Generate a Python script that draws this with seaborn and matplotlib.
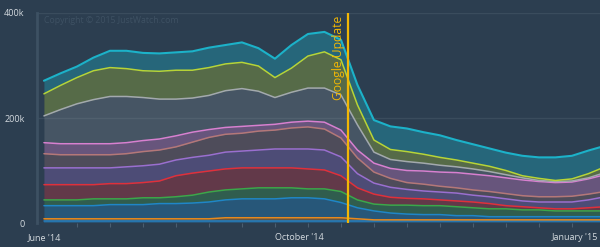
import numpy as np
import pandas as pd
import matplotlib
matplotlib.use("Agg")
import matplotlib.pyplot as plt
import seaborn as sns

# ---- data (thousands of visits per week, stacked bottom -> top) ----
weeks = list(range(35))
s_base   = [4] * 35
s_orange = [4] * 11 + [6] * 8 + [4] + [2] * 15
s_blue   = [25,25,25,25,27,27,27,29,29,30,32,34,36,36,36,38,38,36,29,21,17,13,11,10,10,8,8,6,6,6,6,6,6,6,6]
s_green  = [11,11,11,13,11,11,13,11,13,15,19,19,19,21,21,19,17,19,21,15,13,15,17,17,17,17,15,15,15,13,13,11,11,11,11]
s_red    = [29,29,29,27,29,29,29,32,40,42,40,40,40,38,38,38,38,36,30,23,19,15,13,13,11,11,11,10,6,6,4,4,4,6,8]
s_purple = [32,32,32,32,30,32,32,32,30,30,30,32,32,34,36,36,38,38,36,27,21,19,17,15,15,15,13,13,13,11,11,13,13,15,19]
s_salmon = [27,25,25,25,25,25,27,27,25,29,34,34,34,36,36,40,42,40,36,30,21,17,13,13,11,10,10,10,10,10,10,10,11,11,10]
s_pink   = [21,21,21,21,21,21,21,21,21,19,15,13,13,11,11,11,11,13,15,15,17,19,23,25,27,29,30,30,30,30,29,27,27,29,32]
s_grey   = [51,65,76,84,90,88,82,76,70,65,65,70,72,65,51,57,63,65,67,48,21,17,17,15,13,11,10,8,6,4,2,2,2,2,4]
s_yellow = [42,46,50,55,55,53,51,53,55,53,53,51,50,48,38,46,61,69,67,38,23,19,19,17,15,13,11,10,8,4,4,2,4,8,11]
s_cyan   = [25,23,21,25,32,34,34,34,34,36,38,36,38,34,36,44,42,38,38,38,38,44,44,42,42,38,36,34,34,38,40,44,44,44,40]

series_names = ["base", "orange", "blue", "green", "red", "purple", "salmon", "pink", "grey", "yellow", "cyan"]
series_vals = [s_base, s_orange, s_blue, s_green, s_red, s_purple, s_salmon, s_pink, s_grey, s_yellow, s_cyan]
line_colors = ["#1f7fc4", "#e8891c", "#1f86c8", "#3aa84a", "#e0303a", "#9a6fd0",
               "#b47878", "#d880d0", "#a3a9ae", "#b8d436", "#1cb2c9"]
fill_alpha = [0.3, 0.3, 0.35, 0.3, 0.3, 0.3, 0.25, 0.35, 0.22, 0.3, 0.35]

x_tick_pos = [0, 15.5, 32.2]
x_tick_labels = ["June '14", "October '14", "January '15"]
y_ticks = [0, 200000, 400000]
y_tick_labels = ["0", "200k", "400k"]
update_week = 18.42
update_label = "Google Update"
copyright_text = "Copyright © 2015 JustWatch.com"

# ---- build table ----
rows = []
cum = np.zeros(len(weeks))
bottoms = {}
tops = {}
for name, vals in zip(series_names, series_vals):
    v = np.array(vals, dtype=float) * 1000
    bottoms[name] = cum.copy()
    cum = cum + v
    tops[name] = cum.copy()
    for w, t in zip(weeks, cum):
        rows.append({"week": w, "top": t, "series": name})
df = pd.DataFrame(rows)

sns.set_theme(style="dark")
plt.rcParams['font.family'] = ['Open Sans', 'DejaVu Sans']

bg = "#2c3e50"
fig = plt.figure(figsize=(6.0, 2.47), dpi=100, facecolor=bg)
ax = fig.add_axes([37 / 600, 24 / 247, 563 / 600, 210 / 247])
ax.set_facecolor(bg)

for name, col, a in zip(series_names, line_colors, fill_alpha):
    ax.fill_between(weeks, bottoms[name], tops[name], color=col, alpha=a, lw=0, zorder=2)

palette = dict(zip(series_names, line_colors))
sns.lineplot(data=df, x="week", y="top", hue="series", palette=palette,
             linewidth=1.1, legend=False, ax=ax, zorder=3)
for ln in ax.get_lines():
    if ln.get_color() == "#1cb2c9":
        ln.set_linewidth(1.5)

ax.set_xlim(-0.42, 33.7)
ax.set_ylim(0, 400000)

for yv in y_ticks:
    ax.axhline(yv, color="#3a4c5d", lw=1.0, zorder=1)

ax.axvline(update_week, ymin=0, ymax=1, color="#f2b705", lw=1.6, zorder=5)
ax.text(update_week - 0.2, 400000 - 6000, update_label, rotation=90, ha="right", va="top",
        color="#f2b705", fontsize=8.7, zorder=6)

ax.text(0.0, 385000, copyright_text, color="#3e5163", fontsize=6.3, va="center", ha="left", zorder=1)

ax.set_xticks(x_tick_pos)
ax.set_xticklabels(x_tick_labels)
ax.set_xticks(list(range(2, 34, 2)), minor=True)
ax.tick_params(axis="x", which="major", length=0, pad=7, labelsize=6.5, colors="#d4dadf")
ax.tick_params(axis="x", which="minor", length=3, width=0.8, color="#4b5e70", bottom=True)
ax.set_yticks(y_ticks)
ax.set_yticklabels(y_tick_labels)
ax.tick_params(axis="y", length=0, pad=9, labelsize=6.5, colors="#d4dadf")
ax.set_xlabel("")
ax.set_ylabel("")
ax.grid(False)

for side in ["top", "right", "bottom"]:
    ax.spines[side].set_visible(False)
ax.spines["left"].set_visible(True)
ax.spines["left"].set_color("#3d5163")
ax.spines["left"].set_linewidth(2.0)

fig.savefig("out.png", dpi=100, facecolor=bg)
